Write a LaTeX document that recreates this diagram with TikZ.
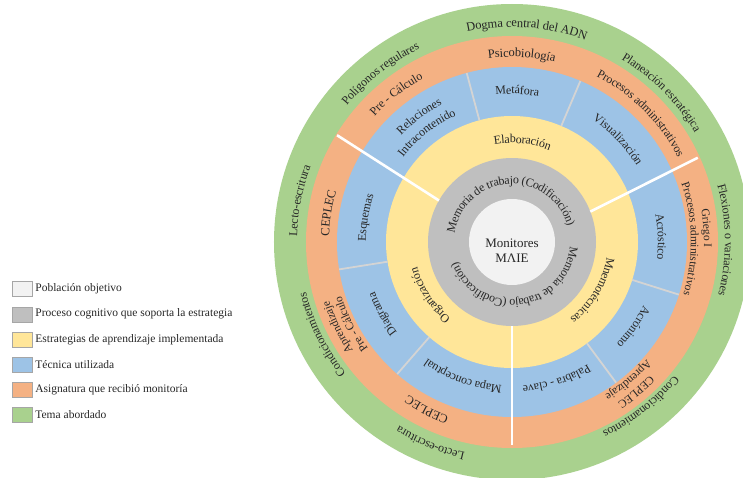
\documentclass[tikz,border=0pt]{standalone}
\usepackage{fontspec}
\setmainfont{Liberation Serif}
\usepackage{tikz}
\usetikzlibrary{decorations.text}
\usetikzlibrary{positioning}

\definecolor{pobla}{HTML}{F2F2F2}
\definecolor{proce}{HTML}{BFBFBF}
\definecolor{estra}{HTML}{FFE699}
\definecolor{tecni}{HTML}{9DC3E6}
\definecolor{asign}{HTML}{F4B183}
\definecolor{tema}{HTML}{A9D18E}
\definecolor{sepgray}{HTML}{D4D4D4}

\newcommand\ringlabel[4]{% angle, radius, font size, text
  \path[decorate,decoration={text along path,text align=center,raise=-4pt,
    text color=black!85,text={|\fontsize{#3}{#3}\selectfont|#4}}]
    (#1+90:#2pt) arc[start angle=#1+90,end angle=#1-90,radius=#2pt];
}

\tikzset{
  legbox/.style={draw=gray!70,minimum width=20pt,minimum height=15pt,inner sep=0pt},
  legtext/.style={inner sep=0pt,font=\fontsize{11.5}{13}\selectfont,text=black!85},
  sepwhite/.style={white,line width=2.6pt},
  sepline/.style={sepgray,line width=1.8pt}
}

\begin{document}
\begin{tikzpicture}[x=1pt,y=1pt]
  \useasboundingbox (-512,-235) rectangle (231,242);
  \clip (-512,-235) rectangle (231,242);
  \coordinate (o) at (0,0);
  % rings
  \fill[tema] (o) circle[radius=238pt];
  \fill[asign] (o) circle[radius=206pt];
  \fill[tecni] (o) circle[radius=175pt];
  \fill[estra] (o) circle[radius=126pt];
  \fill[proce] (o) circle[radius=84pt];
  \fill[pobla] (o) circle[radius=43pt];
  % separators
  \foreach \a in {67,105,189,229,306.5,342.5}
    \draw[sepline] (\a:126pt) -- (\a:175pt);
  \draw[sepwhite] (150.4:84pt) -- (148.6:205pt);
  \draw[sepwhite] (21.2:84pt) -- (24.4:204pt);
  \draw[sepwhite] (270:84pt) -- (270:203pt);

  \node[align=center,font=\fontsize{13}{15}\selectfont,text=black!85] (mon) at (0,-9) {Monitores\\MΛIE};

  % proceso cognitivo
  \ringlabel{93.5}{62}{12}{Memoria de trabajo (Codificación)}
  \ringlabel{277.5}{62}{12}{Memoria de trabajo (Codificación)}
  % estrategias
  \ringlabel{84}{103}{12}{Elaboración}
  \ringlabel{213}{102}{12}{Organización}
  \ringlabel{-31}{100}{12}{Mnemotécnicas}
  % tecnicas
  \ringlabel{88}{152}{12}{Metáfora}
  \ringlabel{126.5}{158}{12}{Relaciones}
  \ringlabel{128}{142}{12}{Intracontenido}
  \ringlabel{44}{150}{12}{Visualización}
  \ringlabel{170.5}{150}{12}{Esquemas}
  \ringlabel{209}{150}{12}{Diagrama}
  \ringlabel{250}{148}{12}{Mapa conceptual}
  \ringlabel{288}{148}{12}{Palabra - clave}
  \ringlabel{325}{150}{12}{Acrónimo}
  \ringlabel{2}{150}{12}{Acróstico}
  % asignaturas
  \ringlabel{87}{189}{12.5}{Psicobiología}
  \ringlabel{128}{190}{12}{Pre - Cálculo}
  \ringlabel{45}{190}{12}{Procesos administrativos}
  \ringlabel{171}{187}{12.5}{CEPLEC}
  \ringlabel{206}{196}{11.5}{Aprendizaje}
  \ringlabel{207}{183}{11.5}{Pre - Cálculo}
  \ringlabel{243}{189}{12.5}{CEPLEC}
  \ringlabel{4}{196}{11.5}{Griego I}
  \ringlabel{1}{183}{11.5}{Procesos administrativos}
  \ringlabel{-50.4}{196}{11.5}{CEPLEC}
  \ringlabel{-50}{183}{11.5}{Aprendizaje}
  % temas
  \ringlabel{86}{219}{12.5}{Dogma central del ADN}
  \ringlabel{128}{218}{12}{Polígonos regulares}
  \ringlabel{45}{217}{12}{Planeación estratégica}
  \ringlabel{0.5}{217}{12}{Flexiones o variaciones}
  \ringlabel{-52}{214}{12}{Condicionamientos}
  \ringlabel{248}{220}{12}{Lecto-escritura}
  \ringlabel{206}{216}{12}{Condicionamientos}
  \ringlabel{169}{219}{12}{Lecto-escritura}

  % legend
  \node[legbox,fill=pobla] (b1) at (-490,-47) {};
  \node[legtext,right=3pt of b1] (t1) {Población objetivo};
  \node[legbox,fill=proce,below=9.8pt of b1] (b2) {};
  \node[legtext,right=3pt of b2] (t2) {Proceso cognitivo que soporta la estrategia};
  \node[legbox,fill=estra,below=9.8pt of b2] (b3) {};
  \node[legtext,right=3pt of b3] (t3) {Estrategias de aprendizaje implementada};
  \node[legbox,fill=tecni,below=9.8pt of b3] (b4) {};
  \node[legtext,right=3pt of b4] (t4) {Técnica utilizada};
  \node[legbox,fill=asign,below=9.8pt of b4] (b5) {};
  \node[legtext,right=3pt of b5] (t5) {Asignatura que recibió monitoría};
  \node[legbox,fill=tema,below=9.8pt of b5] (b6) {};
  \node[legtext,right=3pt of b6] (t6) {Tema abordado};
\end{tikzpicture}
\end{document}
